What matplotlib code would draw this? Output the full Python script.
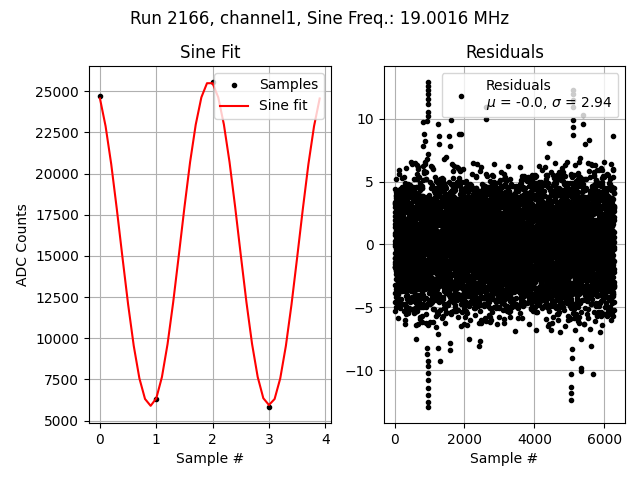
import numpy as np
import matplotlib
matplotlib.use('Agg')
import matplotlib.pyplot as plt

# ADC samples and sine fit (left panel)
sample_idx = [0, 1, 2, 3]
sample_adc = [24700, 6330, 25550, 5850]
fit_t = np.arange(40) / 10
fit_adc = [24565, 22882, 20580, 17830, 14906, 12060, 9542, 7572, 6318, 5900,
           6357, 7647, 9650, 12189, 15042, 17962, 20698, 22974, 24629, 25490,
           25490, 24629, 22982, 20705, 17972, 15051, 12198, 9658, 7653, 6361,
           5950, 6314, 7563, 9535, 12052, 14897, 17821, 20572, 22877, 24562]

# residuals (right panel): dense band of +-4.6 counts, a ragged edge whose
# width changes per 250-sample bin, plus the spikes
n_res = 6286
bin_w = 250
band_core = 4.6
band_edge = [2.6, 3.0, 3.6, 4.0, 3.6, 3.4, 3.4, 2.6, 2.8, 3.0, 2.4, 2.2, 2.2,
             2.8, 2.4, 2.6, 3.2, 3.2, 3.0, 3.2, 4.0, 3.8, 3.6, 3.2, 3.0, 3.2]
out_x = [951, 952, 955, 956, 958, 959, 945, 948, 930, 810, 840, 860, 1238,
         1270, 1271, 1570, 1572, 1619, 1857, 1886, 2619, 2620, 5095, 5096,
         5097, 5098, 5090, 5100, 5101, 5381, 5382, 5570, 6238, 4429,
         953, 954, 957, 960, 961, 946, 947, 949, 940, 935, 1286, 1250,
         5048, 5049, 5060, 5050, 5061, 5070, 5333, 5340, 5686, 1573, 1574,
         2429, 2430, 2143, 5619, 619]
out_y = [12.9, 12.6, 12.3, 12.0, 11.6, 11.2, 10.5, 10.2, 9.8, 9.7, 8.8, 8.2, 9.6,
         8.6, 8.0, 8.6, 7.8, 9.9, 8.8, 8.8, 10.9, 10.0, 12.3, 12.0,
         11.5, 10.9, 9.9, 9.3, 8.7, 10.3, 9.6, 8.3, 8.6, 8.1,
         -10.8, -11.4, -12.0, -12.5, -12.9, -9.3, -9.7, -10.2, -8.7, -8.2, -9.3, -8.2,
         -10.3, -11.3, -11.8, -12.4, -9.0, -8.3, -9.8, -10.1, -10.3, -8.4, -7.8,
         -8.1, -7.7, -7.5, -8.1, -7.5]


def scramble(i, c):
    return (np.sin(i * c) * 43758.5453) % 1


res_idx = np.arange(n_res)
s = 2 * ((0.5 + res_idx * 0.6180339887) % 1) - 1
t = scramble(res_idx + 1, 78.233) + scramble(res_idx + 1, 37.719) - 1
residuals = s * (band_core + np.array(band_edge)[res_idx // bin_w] * t)
residuals[out_x] = out_y

fig, (ax1, ax2) = plt.subplots(1, 2, figsize=(6.4, 4.8))
fig.suptitle('Run 2166, channel1, Sine Freq.: 19.0016 MHz')

ax1.plot(sample_idx, sample_adc, 'k.', label='Samples')
ax1.plot(fit_t, fit_adc, 'r-', label='Sine fit')
ax1.set_title('Sine Fit')
ax1.set_xlabel('Sample #')
ax1.set_ylabel('ADC Counts')
ax1.grid()
ax1.legend(loc='upper right')

ax2.plot(res_idx, residuals, 'k.',
         label='Residuals\n$\\mu$ = -0.0, $\\sigma$ = 2.94')
ax2.set_title('Residuals')
ax2.set_xlabel('Sample #')
ax2.grid()
ax2.legend(loc='upper right')

fig.subplots_adjust(left=0.139, right=0.977, top=0.8625, bottom=0.119, wspace=0.219)
fig.savefig('out.png', dpi=100)
